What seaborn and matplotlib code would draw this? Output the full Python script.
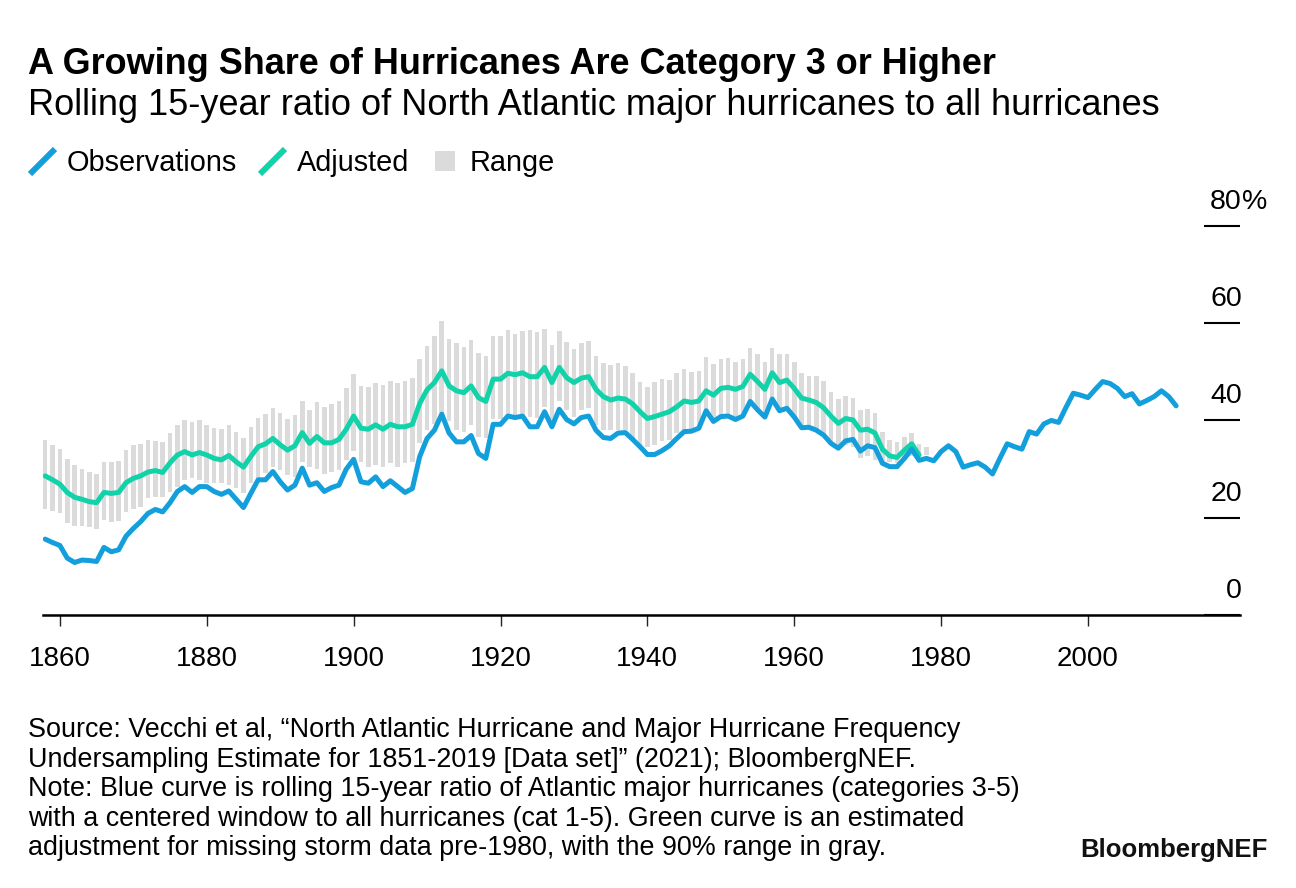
import numpy as np
import matplotlib
matplotlib.use("Agg")
import matplotlib.pyplot as plt
import matplotlib.transforms as mtransforms
from matplotlib.lines import Line2D
import seaborn as sns

# --- Data (% of hurricanes that are cat 3-5) ---
obs_years = list(range(1858, 2013))
observed = [
    15.6, 14.9, 14.3, 11.7, 10.8, 11.3, 11.2, 11.0, 13.9, 13.0,   # 1858-1867
    13.4, 16.2, 17.8, 19.2, 20.9, 21.7, 21.2, 23.1, 25.4, 26.4,   # 1868-1877
    25.2, 26.4, 26.4, 25.4, 24.8, 25.5, 23.8, 22.1, 25.0, 27.8,   # 1878-1887
    27.8, 29.5, 27.4, 25.7, 26.7, 30.2, 26.7, 27.2, 25.4, 26.2,   # 1888-1897
    26.7, 30.0, 32.0, 27.4, 27.1, 28.4, 26.4, 27.6, 26.4, 25.2,   # 1898-1907
    26.0, 32.6, 36.3, 38.0, 41.3, 37.4, 35.6, 35.6, 36.9, 33.2,   # 1908-1917
    32.2, 39.2, 39.2, 40.9, 40.6, 40.9, 38.7, 38.7, 41.8, 38.7,   # 1918-1927
    42.3, 40.2, 39.3, 40.6, 40.9, 38.0, 36.5, 36.3, 37.4, 37.5,   # 1928-1937
    36.1, 34.6, 33.0, 33.0, 33.8, 34.8, 36.3, 37.7, 37.8, 38.4,   # 1938-1947
    42.0, 39.8, 40.8, 40.9, 40.2, 40.9, 43.9, 42.2, 40.7, 44.4,   # 1948-1957
    42.0, 42.5, 40.7, 38.5, 38.6, 38.0, 37.0, 35.3, 34.3, 35.8,   # 1958-1967
    36.1, 33.7, 34.8, 34.4, 31.2, 30.5, 30.5, 32.2, 34.1, 31.8,   # 1968-1977
    32.2, 31.7, 33.6, 34.8, 33.6, 30.4, 30.9, 31.3, 30.4, 29.0,   # 1978-1987
    32.2, 35.2, 34.6, 34.1, 37.7, 37.2, 39.3, 40.0, 39.6, 42.7,   # 1988-1997
    45.6, 45.2, 44.7, 46.4, 48.0, 47.6, 46.6, 44.9, 45.5, 43.4,   # 1998-2007
    44.1, 44.9, 46.1, 44.9, 43.0,                                 # 2008-2012
]

adj_years = list(range(1858, 1978))
adjusted = [
    28.6, 27.8, 26.9, 25.2, 24.2, 23.8, 23.3, 23.1, 25.2, 25.0,   # 1858-1867
    25.2, 27.2, 28.1, 28.6, 29.4, 29.7, 29.3, 31.3, 32.9, 33.6,   # 1868-1877
    32.9, 33.4, 32.9, 32.2, 31.9, 32.8, 31.5, 30.4, 32.6, 34.6,   # 1878-1887
    35.2, 36.3, 35.0, 33.9, 34.8, 37.5, 35.3, 36.7, 35.4, 35.4,   # 1888-1897
    36.1, 38.2, 40.9, 38.4, 38.2, 39.1, 38.2, 39.2, 38.7, 38.7,   # 1898-1907
    39.2, 43.5, 46.3, 47.8, 50.2, 47.1, 46.1, 45.7, 47.1, 44.7,   # 1908-1917
    43.9, 48.5, 48.5, 49.7, 49.4, 49.8, 49.0, 49.0, 50.9, 47.8,   # 1918-1927
    50.9, 48.8, 47.8, 48.7, 49.0, 46.4, 44.9, 44.2, 44.6, 44.4,   # 1928-1937
    43.4, 41.8, 40.4, 40.8, 41.3, 41.8, 42.8, 44.0, 43.7, 44.0,   # 1938-1947
    46.1, 45.2, 46.6, 46.8, 46.4, 47.0, 49.5, 48.0, 46.4, 49.8,   # 1948-1957
    47.8, 48.3, 46.6, 44.6, 44.2, 43.7, 42.6, 40.9, 39.4, 40.4,   # 1958-1967
    40.1, 38.0, 38.2, 37.4, 34.1, 32.7, 32.4, 33.9, 35.2, 32.9,   # 1968-1977
]

range_years = list(range(1858, 1979))
range_low = [
    21.8, 21.4, 20.9, 19.0, 18.4, 18.2, 18.0, 17.7, 19.5, 19.2,
    19.4, 21.2, 21.8, 22.3, 24.1, 24.3, 24.3, 25.2, 26.4, 27.8,
    28.1, 27.8, 27.1, 27.1, 27.1, 26.7, 26.2, 25.0, 27.1, 27.4,
    29.1, 30.5, 29.8, 28.8, 28.4, 31.5, 30.5, 30.0, 28.9, 29.3,
    29.8, 31.9, 33.7, 31.5, 30.5, 30.8, 30.5, 31.2, 30.5, 31.2,
    31.5, 35.3, 38.0, 39.2, 41.5, 39.8, 38.0, 37.7, 39.1, 36.7,
    36.3, 40.4, 40.4, 41.1, 40.8, 41.1, 40.8, 40.6, 42.8, 40.1,
    43.9, 42.2, 40.8, 42.2, 42.5, 39.1, 38.0, 38.0, 38.0, 38.0,
    36.0, 35.0, 34.6, 35.0, 35.7, 36.0, 37.4, 38.0, 38.0, 38.7,
    41.5, 39.4, 40.8, 41.1, 40.4, 40.8, 43.5, 42.2, 40.8, 43.9,
    42.2, 42.5, 40.4, 38.7, 38.7, 38.0, 37.4, 35.3, 34.3, 35.0,
    34.6, 32.2, 32.6, 31.9, 31.2, 31.5, 31.2, 31.9, 32.6, 32.6,
    32.9,
]
range_high = [
    36.0, 35.0, 34.1, 32.1, 30.8, 30.0, 29.4, 29.0, 31.5, 31.4,
    31.7, 33.9, 34.9, 35.1, 35.9, 35.8, 35.5, 37.4, 39.0, 40.1,
    39.6, 40.1, 39.1, 38.5, 38.2, 39.1, 37.6, 36.3, 38.7, 40.6,
    41.3, 42.5, 41.5, 40.4, 41.1, 44.0, 42.2, 43.8, 42.7, 43.4,
    44.0, 46.6, 49.6, 47.1, 46.8, 47.6, 47.2, 48.2, 47.6, 48.2,
    48.7, 52.6, 55.4, 57.4, 60.4, 56.8, 55.9, 55.0, 56.6, 53.9,
    53.3, 57.4, 57.4, 58.5, 57.8, 58.3, 58.6, 58.1, 58.8, 55.5,
    58.3, 56.2, 54.7, 55.9, 56.4, 53.3, 51.8, 51.3, 51.8, 51.2,
    49.7, 47.9, 46.8, 48.0, 48.5, 48.3, 49.7, 50.5, 50.0, 50.2,
    53.1, 51.6, 52.6, 52.8, 52.0, 52.6, 54.8, 53.7, 52.0, 54.8,
    53.6, 53.7, 52.1, 49.7, 49.2, 49.2, 48.1, 45.9, 44.4, 45.1,
    44.7, 42.2, 42.4, 41.5, 37.7, 36.0, 35.6, 36.5, 37.4, 35.2,
    34.6,
]

x_ticks = [1860, 1880, 1900, 1920, 1940, 1960, 1980, 2000]
y_ticks = [0, 20, 40, 60, 80]

title = "A Growing Share of Hurricanes Are Category 3 or Higher"
subtitle = "Rolling 15-year ratio of North Atlantic major hurricanes to all hurricanes"
note_lines = [
    "Source: Vecchi et al, \u201cNorth Atlantic Hurricane and Major Hurricane Frequency",
    "Undersampling Estimate for 1851-2019 [Data set]\u201d (2021); BloombergNEF.",
    "Note: Blue curve is rolling 15-year ratio of Atlantic major hurricanes (categories 3-5)",
    "with a centered window to all hurricanes (cat 1-5). Green curve is an estimated",
    "adjustment for missing storm data pre-1980, with the 90% range in gray.",
]

BLUE = "#139FDB"
GREEN = "#12D2A9"
GREY = "#DBDBDB"

# --- Style ---
sns.set_theme(style="white")
plt.rcParams['font.family'] = ['Liberation Sans', 'DejaVu Sans']
plt.rcParams['text.color'] = 'black'

W, H = 1296, 888
fig = plt.figure(figsize=(W / 100, H / 100), dpi=100)
ax = fig.add_axes([43 / W, (H - 615) / H, 1197 / W, 428 / H])

# range bars
low = np.array(range_low)
high = np.array(range_high)
ax.bar(range_years, high - low, bottom=low, width=0.62, color=GREY, linewidth=0, zorder=1)

# curves
sns.lineplot(x=adj_years, y=adjusted, color=GREEN, linewidth=3.6, ax=ax, legend=False, zorder=2)
sns.lineplot(x=obs_years, y=observed, color=BLUE, linewidth=3.6, ax=ax, legend=False, zorder=3)

ax.set_xlim(1857.7, 2020.7)
ax.set_ylim(0, 88)
ax.set_xlabel("")
ax.set_ylabel("")

for s in ["top", "left", "right"]:
    ax.spines[s].set_visible(False)
ax.spines["bottom"].set_color("black")
ax.spines["bottom"].set_linewidth(1.8)

ax.set_xticks(x_ticks)
ax.set_xticklabels([str(t) for t in x_ticks])
ax.tick_params(axis="x", bottom=True, direction="out", length=8, width=1.0,
               color="#222222", labelsize=20.0, pad=14, labelcolor="black")

# right-hand value ticks: short bars with the number sitting on top
ax.yaxis.tick_right()
ax.set_yticks(y_ticks)
ax.tick_params(axis="y", right=True, left=False, direction="in", length=26,
               width=1.5, color="black", labelright=False, labelleft=False)
lab_tr = mtransforms.blended_transform_factory(ax.transAxes, ax.transData) + \
    mtransforms.ScaledTranslation(0, 17 / 100, fig.dpi_scale_trans)
for v in y_ticks:
    ax.text(1.0015, v, str(v), transform=lab_tr, ha="right", va="baseline",
            fontsize=20.5, color="black")
    if v == y_ticks[-1]:
        ax.text(1.0015, v, "%", transform=lab_tr, ha="left", va="baseline",
                fontsize=20.5, color="black")

# legend
def slash(color):
    return Line2D([], [], linestyle="none", marker=[(-1, -1), (1, 1)],
                  markersize=18, markeredgewidth=4.3, markeredgecolor=color)

handles = [slash(BLUE), slash(GREEN),
           Line2D([], [], linestyle="none", marker="s", markersize=14.4,
                  markerfacecolor=GREY, markeredgewidth=0)]
fig.legend(handles, ["Observations", "Adjusted", "Range"], loc="center left",
           bbox_to_anchor=(28 / W, 1 - 163 / H), ncol=3, frameon=False,
           fontsize=20.8, handlelength=1.0, handletextpad=0.35,
           columnspacing=0.72, borderaxespad=0, borderpad=0, labelcolor="black")

# titles
fig.text(28 / W, 1 - 74 / H, title, fontsize=25.9, fontweight="bold",
         va="baseline", color="black")
fig.text(28 / W, 1 - 115 / H, subtitle, fontsize=26.0, va="baseline", color="black")

# notes
for i, line in enumerate(note_lines):
    fig.text(28 / W, 1 - (737 + 29.5 * i) / H, line, fontsize=19.4,
             va="baseline", color="black")

fig.text(1268 / W, 1 - 857 / H, "BloombergNEF", fontsize=18.5, fontweight="bold",
         ha="right", va="baseline", color="#111111")

fig.savefig("out.png", dpi=100)
